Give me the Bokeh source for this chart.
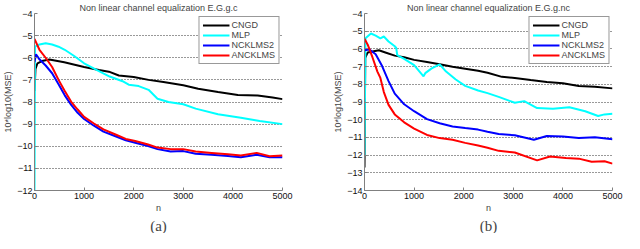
from bokeh.plotting import figure
from bokeh.layouts import row
from bokeh.models import Legend, LegendItem, FixedTicker, Range1d, Title
from bokeh.embed import file_html
from bokeh.resources import INLINE

# ---------------- data: panel (a) ----------------
n_cngd_a = [0, 20, 60, 150, 300, 600, 1000, 1300, 1500, 1700, 2000, 2300, 2600, 3000, 3300, 3700, 4100, 4500, 4800, 5000]
cngd_a = [-7.5, -6.5, -6.25, -6.15, -6.08, -6.2, -6.42, -6.55, -6.63, -6.8, -6.87, -7.0, -7.1, -7.24, -7.4, -7.55, -7.68, -7.71, -7.8, -7.87]

n_mlp_a = [0, 10, 100, 225, 355, 485, 610, 800, 1000, 1260, 1515, 1775, 1900, 2100, 2300, 2480, 2700, 3000, 3250, 3700, 4160, 4540, 5000]
mlp_a = [-12, -5.5, -5.4, -5.34, -5.4, -5.5, -5.64, -5.92, -6.25, -6.56, -6.85, -7.06, -7.22, -7.28, -7.45, -7.85, -8.0, -8.1, -8.3, -8.55, -8.71, -8.86, -9.0]

n_nck_a = [0, 30, 100, 225, 355, 485, 610, 740, 870, 1000, 1190, 1390, 1645, 1840, 2030, 2290, 2480, 2745, 3000, 3250, 3570, 3900, 4160, 4480, 4740, 5000]
nck_a = [-6.2, -5.85, -6.07, -6.35, -6.7, -7.2, -7.7, -8.13, -8.49, -8.77, -9.06, -9.34, -9.56, -9.73, -9.84, -9.99, -10.13, -10.24, -10.22, -10.34, -10.38, -10.44, -10.5, -10.38, -10.5, -10.5]

n_anck_a = [0, 100, 225, 355, 485, 610, 740, 870, 1000, 1190, 1390, 1645, 1840, 2030, 2290, 2480, 2745, 3000, 3250, 3570, 3900, 4160, 4480, 4740, 5000]
anck_a = [-5.15, -5.64, -6.0, -6.42, -7.0, -7.5, -7.99, -8.34, -8.67, -8.96, -9.24, -9.48, -9.67, -9.76, -9.92, -10.06, -10.13, -10.13, -10.24, -10.3, -10.36, -10.42, -10.3, -10.45, -10.42]

# ---------------- data: panel (b) ----------------
n_cngd_b = [0, 15, 65, 160, 290, 420, 610, 800, 1000, 1260, 1515, 1775, 2030, 2290, 2480, 2770, 3030, 3350, 3675, 4000, 4320, 4645, 5000]
cngd_b = [-12.7, -6.5, -6.2, -6.15, -6.08, -6.2, -6.38, -6.47, -6.62, -6.74, -6.87, -7.01, -7.12, -7.24, -7.35, -7.58, -7.64, -7.76, -7.87, -7.94, -8.09, -8.14, -8.23]

n_mlp_b = [0, 20, 130, 225, 320, 390, 485, 610, 640, 660, 800, 1000, 1190, 1225, 1355, 1515, 1645, 1840, 2030, 2290, 2480, 2705, 3030, 3220, 3480, 3800, 4130, 4450, 4710, 4840, 5000]
mlp_b = [-12, -5.4, -5.13, -5.25, -5.4, -5.3, -5.58, -5.85, -5.95, -6.35, -6.56, -6.92, -7.55, -7.37, -7.1, -6.87, -7.28, -7.73, -8.09, -8.35, -8.5, -8.71, -9.04, -8.95, -9.34, -9.38, -9.3, -9.52, -9.79, -9.7, -9.66]

n_nck_b = [0, 100, 225, 355, 485, 610, 800, 1000, 1260, 1515, 1775, 2030, 2290, 2480, 2705, 3030, 3415, 3675, 4000, 4320, 4645, 5000]
nck_b = [-6.08, -6.03, -6.3, -6.97, -7.82, -8.53, -9.13, -9.52, -9.97, -10.2, -10.38, -10.47, -10.56, -10.68, -10.81, -10.88, -11.13, -10.92, -10.95, -11.04, -10.99, -11.1]

n_anck_b = [0, 65, 160, 260, 320, 390, 485, 610, 800, 1000, 1260, 1515, 1775, 2030, 2290, 2480, 2705, 3030, 3480, 3740, 4060, 4320, 4580, 4840, 5000]
anck_b = [-5.43, -5.76, -6.47, -7.28, -7.64, -8.44, -9.16, -9.7, -10.15, -10.5, -10.86, -11.04, -11.13, -11.31, -11.46, -11.58, -11.76, -11.85, -12.3, -12.08, -12.17, -12.2, -12.38, -12.35, -12.48]

labels = ["CNGD", "MLP", "NCKLMS2", "ANCKLMS"]
colors = ["#000000", "#00ffff", "#0000ff", "#ff0000"]
x_ticks = [0, 1000, 2000, 3000, 4000, 5000]

SANS = "Liberation Sans"
SERIF = "Liberation Serif"


def make_panel(title, caption, ylo, yhi, series, width, bl, br):
    p = figure(width=width, height=233, output_backend="svg", toolbar_location=None,
               x_range=Range1d(0, 5000), y_range=Range1d(ylo, yhi),
               min_border_left=bl, min_border_right=br, min_border_top=4, min_border_bottom=0)
    p.title.text = title
    p.title.align = "center"
    p.title.text_font = SANS
    p.title.text_font_size = "9px"
    p.title.text_font_style = "normal"
    p.title.standoff = 1
    p.outline_line_color = None
    p.background_fill_color = "white"
    p.border_fill_color = "white"

    yt = list(range(ylo, yhi + 1))
    p.yaxis.ticker = FixedTicker(ticks=yt)
    p.yaxis.major_label_overrides = {v: ("\u2212%d" % -v if v < 0 else str(v)) for v in yt}
    p.xaxis.ticker = FixedTicker(ticks=x_ticks)
    p.xaxis.major_label_overrides = {v: str(v) for v in x_ticks}
    for ax in (p.xaxis, p.yaxis):
        ax.axis_line_color = "#808080"
        ax.major_tick_line_color = "#808080"
        ax.major_tick_in = 3
        ax.major_tick_out = 0
        ax.minor_tick_line_color = None
        ax.major_label_text_font = SANS
        ax.major_label_text_font_size = "9px"
        ax.major_label_text_color = "#111111"
        ax.major_label_standoff = 2
        ax.axis_label_text_font = SANS
        ax.axis_label_text_font_size = "9px"
        ax.axis_label_text_font_style = "normal"
        ax.axis_label_standoff = 1
    p.xaxis.axis_label = "n"
    p.yaxis.axis_label = "10*log10(MSE)"
    p.xgrid.grid_line_color = None
    p.ygrid.grid_line_color = "#333333"
    p.ygrid.grid_line_dash = "1 2"
    p.ygrid.grid_line_width = 1

    items = []
    for (xs, ys), lab, col in zip(series, labels, colors):
        r = p.line(xs, ys, line_color=col, line_width=2)
        items.append(LegendItem(label=lab, renderers=[r]))
    leg = Legend(items=items, location="top_right")
    leg.margin = 3
    leg.padding = 3
    leg.spacing = 0
    leg.glyph_width = 27
    leg.glyph_height = 10
    leg.label_height = 10
    leg.label_standoff = 2
    leg.label_text_font = SANS
    leg.label_text_font_size = "9px"
    leg.border_line_color = "#333333"
    leg.border_line_width = 1
    leg.background_fill_color = "white"
    leg.background_fill_alpha = 1
    p.add_layout(leg)

    cap = Title(text=caption, align="center", text_font=SERIF, text_font_size="15px",
                text_font_style="normal", standoff=0)
    p.add_layout(cap, "below")
    return p


pa = make_panel("Non linear channel equalization E.G.g.c", "(a)", -12, -4,
                [(n_cngd_a, cngd_a), (n_mlp_a, mlp_a), (n_nck_a, nck_a), (n_anck_a, anck_a)],
                312, 20, 30)
pb = make_panel("Non linear channel equalization E.G.g.nc", "(b)", -14, -4,
                [(n_cngd_b, cngd_b), (n_mlp_b, mlp_b), (n_nck_b, nck_b), (n_anck_b, anck_b)],
                312, 52, 12)

layout = row(pa, pb)
open("out.html", "w").write(file_html(layout, INLINE))
